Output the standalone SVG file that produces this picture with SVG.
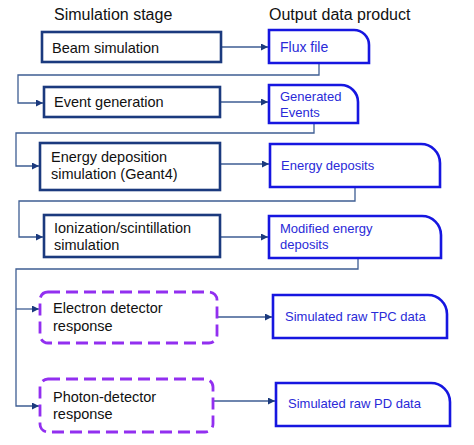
<svg xmlns="http://www.w3.org/2000/svg" width="474" height="445" viewBox="0 0 474 445">
<defs>
<style>
.hdr{font-family:"Liberation Sans",Arial,sans-serif;font-size:16px;fill:#111}
.lt{font-family:"Liberation Sans",Arial,sans-serif;font-size:14.5px;fill:#111}
.rt{font-family:"Liberation Sans",Arial,sans-serif;font-size:13px;fill:#2a2ad8}
.sb{fill:#fff;stroke:#1b3a7e;stroke-width:2.6}
.db{fill:#fff;stroke:#922ff0;stroke-width:2.8;stroke-dasharray:12 6}
.ob{fill:#fff;stroke:#1616e0;stroke-width:2.6}
.cn{fill:none;stroke:#3e5d93;stroke-width:1.3}
</style>
<marker id="ah" viewBox="0 0 10 10" refX="10" refY="5" markerWidth="7" markerHeight="7" markerUnits="userSpaceOnUse" orient="auto">
<path d="M0,0 L10,5 L0,10 z" fill="#1b3a7e"/>
</marker>
</defs>
<rect width="474" height="445" fill="#fff"/>
<text class="hdr" x="54" y="20">Simulation stage</text>
<text class="hdr" x="269" y="20">Output data product</text>

<g id="connectors">
<path class="cn" d="M221,47 H268" marker-end="url(#ah)"/>
<path class="cn" d="M319,63 V75 H18 V103 H43" marker-end="url(#ah)"/>
<path class="cn" d="M220,102 H268" marker-end="url(#ah)"/>
<path class="cn" d="M314,123 V133 H16 V166 H39" marker-end="url(#ah)"/>
<path class="cn" d="M220,164 H269" marker-end="url(#ah)"/>
<path class="cn" d="M355,187 V201 H19 V237 H43" marker-end="url(#ah)"/>
<path class="cn" d="M220,237 H268" marker-end="url(#ah)"/>
<path class="cn" d="M358,258 V269 H16 V406 H39" marker-end="url(#ah)"/>
<path class="cn" d="M16,309 H39" marker-end="url(#ah)"/>
<path class="cn" d="M217,317 H272" marker-end="url(#ah)"/>
<path class="cn" d="M213,401 H275" marker-end="url(#ah)"/>
</g>

<g id="beam"><rect class="sb" x="42" y="32" width="179" height="30"/><text class="lt" x="52" y="53">Beam simulation</text></g>
<g id="event"><rect class="sb" x="44" y="87" width="176" height="30"/><text class="lt" x="54" y="107">Event generation</text></g>
<g id="edep"><rect class="sb" x="40" y="143" width="180" height="47"/><text class="lt" x="51" y="162">Energy deposition</text><text class="lt" x="51" y="179">simulation (Geant4)</text></g>
<g id="ion"><rect class="sb" x="44" y="215" width="176" height="42"/><text class="lt" x="54" y="233">Ionization/scintillation</text><text class="lt" x="54" y="250">simulation</text></g>
<g id="electron"><rect class="db" x="40" y="292" width="177" height="51" rx="8"/><text class="lt" x="53" y="313">Electron detector</text><text class="lt" x="53" y="331">response</text></g>
<g id="photon"><rect class="db" x="40" y="379" width="173" height="53" rx="8"/><text class="lt" x="53" y="402">Photon-detector</text><text class="lt" x="53" y="419">response</text></g>

<g id="flux"><path class="ob" d="M269,30 H354 A15,15 0 0 1 369,45 V63 H269 Z"/><text class="rt" x="280" y="52" style="font-size:14px">Flux file</text></g>
<g id="genev"><path class="ob" d="M269,85 H341 A17,17 0 0 1 358,102 V123 H269 Z"/><text class="rt" x="280" y="101">Generated</text><text class="rt" x="280" y="117">Events</text></g>
<g id="edeps"><path class="ob" d="M270,144 H421 A19,19 0 0 1 440,163 V187 H270 Z"/><text class="rt" x="281" y="170">Energy deposits</text></g>
<g id="moddep"><path class="ob" d="M269,216 H422 A19,19 0 0 1 441,235 V258 H269 Z"/><text class="rt" x="280" y="233">Modified energy</text><text class="rt" x="280" y="249">deposits</text></g>
<g id="tpc"><path class="ob" d="M273,295 H428 A19,19 0 0 1 447,314 V338 H273 Z"/><text class="rt" x="285" y="321">Simulated raw TPC data</text></g>
<g id="pd"><path class="ob" d="M276,383 H431 A19,19 0 0 1 450,402 V426 H276 Z"/><text class="rt" x="288" y="408">Simulated raw PD data</text></g>
</svg>
